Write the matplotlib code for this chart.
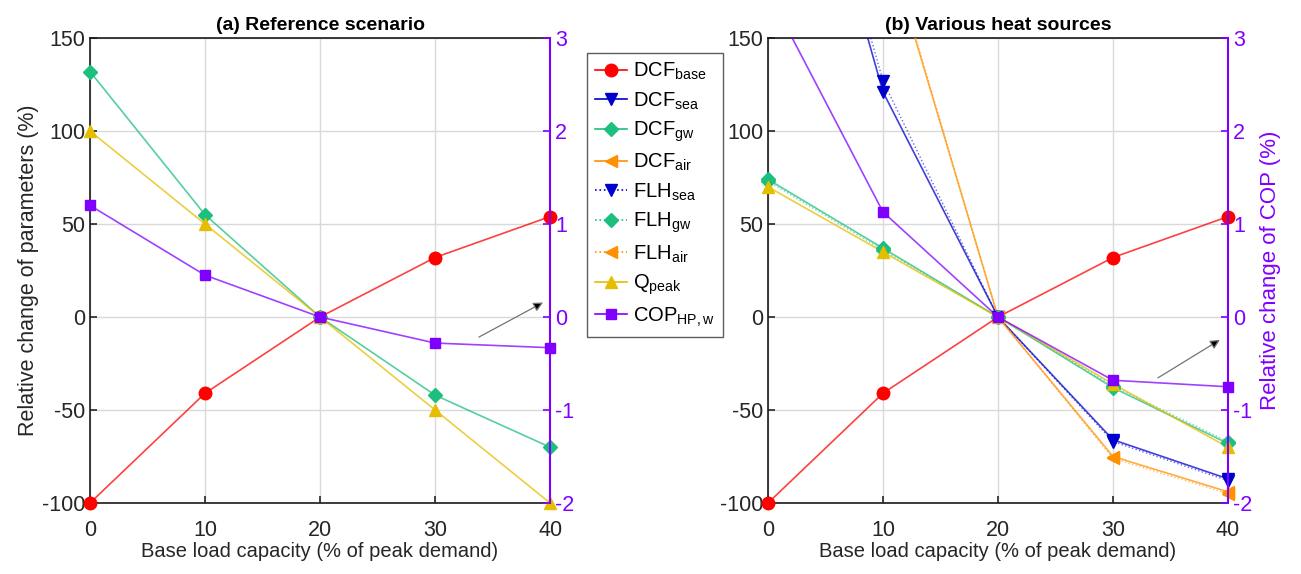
import numpy as np
import matplotlib
matplotlib.use('Agg')
import matplotlib.pyplot as plt
from matplotlib.lines import Line2D
from matplotlib.colors import to_rgba

plt.rcParams['font.family'] = ['Liberation Sans', 'DejaVu Sans']
plt.rcParams['mathtext.fontset'] = 'custom'
plt.rcParams['mathtext.rm'] = 'Liberation Sans'
plt.rcParams['mathtext.it'] = 'Liberation Sans'
plt.rcParams['axes.unicode_minus'] = False

# base load capacity (% of peak demand)
x = [0, 10, 20, 30, 40]

# (a) reference scenario
ref_dcf_base = [-100, -41, 0, 32, 54]
ref_dcf_gw = [132, 55, 0, -42, -70]
ref_q_peak = [100, 50, 0, -50, -100]
ref_cop = [1.2, 0.45, 0, -0.28, -0.33]

# (b) various heat sources
dcf_base = [-100, -41, 0, 32, 54]
dcf_sea = [340, 121, 0, -66, -87]
flh_sea = [345, 127, 0, -67, -88]
dcf_gw = [74, 37, 0, -38, -68]
flh_gw = [73, 36, 0, -37, -67]
dcf_air = [450, 208, 0, -75, -94]
flh_air = [455, 210, 0, -76, -95]
q_peak = [70, 35, 0, -36, -70]
cop = [3.5, 1.13, 0, -0.68, -0.75]

red = '#FF0000'
blue = '#0000CD'
green = '#1DBF7E'
orange = '#FF9000'
gold = '#E6BE00'
purple = '#8000FF'

labels = [r'DCF$_{\mathrm{base}}$', r'DCF$_{\mathrm{sea}}$', r'DCF$_{\mathrm{gw}}$',
          r'DCF$_{\mathrm{air}}$', r'FLH$_{\mathrm{sea}}$', r'FLH$_{\mathrm{gw}}$',
          r'FLH$_{\mathrm{air}}$', r'Q$_{\mathrm{peak}}$', r'COP$_{\mathrm{HP,w}}$']
styles = [(red, 'o', '-'), (blue, 'v', '-'), (green, 'D', '-'), (orange, '<', '-'),
          (blue, 'v', ':'), (green, 'D', ':'), (orange, '<', ':'),
          (gold, '^', '-'), (purple, 's', '-')]
msizes = {'o': 9, 'v': 9, 'D': 7.5, '<': 9, '^': 9, 's': 7.5}


def series(ax, y, color, marker, ls, lo, hi):
    y = np.array(y, dtype=float)
    a = 0.75 if ls == '-' else 0.6
    lw = 1.2 if ls == '-' else 1.0
    ax.plot(x, y, ls=ls, color=to_rgba(color, a), lw=lw, zorder=3)
    m = (y >= lo) & (y <= hi)
    ax.plot(np.array(x)[m], y[m], ls='none', marker=marker, ms=msizes[marker],
            color=color, clip_on=False, zorder=4)


def setup(ax, title):
    ax.set_xlim(0, 40)
    ax.set_ylim(-100, 150)
    ax.set_xticks(x)
    ax.set_yticks(range(-100, 151, 50))
    ax.grid(True, color='0.85', lw=1.0)
    ax.tick_params(direction='in', labelsize=15.5, length=5, width=1.2, colors='0.15')
    ax.tick_params(axis='x', pad=12)
    for s in ax.spines.values():
        s.set_linewidth(1.2)
        s.set_color('0.1')
    ax.set_title(title, fontsize=14, fontweight='bold', pad=6)
    ax.set_xlabel('Base load capacity (% of peak demand)', fontsize=14.5, color='0.15', labelpad=1)


def cop_axis(ax):
    ax2 = ax.twinx()
    ax2.set_ylim(-2, 3)
    ax2.set_yticks(range(-2, 4))
    ax2.tick_params(direction='in', labelsize=15.5, length=5, width=1.2, colors=purple)
    ax2.spines['right'].set_color(purple)
    ax2.spines['right'].set_linewidth(1.5)
    ax2.spines['left'].set_visible(False)
    ax2.spines['top'].set_visible(False)
    ax2.spines['bottom'].set_visible(False)
    return ax2


fig = plt.figure(figsize=(13.01, 5.74), dpi=100)
ax1 = fig.add_axes([0.0692, 0.1237, 0.3536, 0.810])
ax3 = fig.add_axes([0.5903, 0.1237, 0.3536, 0.810])

# (a)
setup(ax1, '(a) Reference scenario')
ax1.set_ylabel('Relative change of parameters (%)', fontsize=15.5, color='0.15', labelpad=2)
series(ax1, ref_dcf_base, red, 'o', '-', -100, 150)
series(ax1, ref_dcf_gw, green, 'D', '-', -100, 150)
series(ax1, ref_q_peak, gold, '^', '-', -100, 150)
ax2 = cop_axis(ax1)
series(ax2, ref_cop, purple, 's', '-', -2, 3)
ax1.annotate('', xy=(39.6, 8.5), xytext=(33.6, -11.5),
             arrowprops=dict(arrowstyle='-|>', edgecolor='0.45', facecolor='black',
                             lw=0.9, mutation_scale=14))

# (b)
setup(ax3, '(b) Various heat sources')
series(ax3, dcf_base, red, 'o', '-', -100, 150)
series(ax3, flh_sea, blue, 'v', ':', -100, 150)
series(ax3, dcf_sea, blue, 'v', '-', -100, 150)
series(ax3, flh_air, orange, '<', ':', -100, 150)
series(ax3, dcf_air, orange, '<', '-', -100, 150)
series(ax3, flh_gw, green, 'D', ':', -100, 150)
series(ax3, dcf_gw, green, 'D', '-', -100, 150)
series(ax3, q_peak, gold, '^', '-', -100, 150)
ax4 = cop_axis(ax3)
series(ax4, cop, purple, 's', '-', -2, 3)
ax4.set_ylabel('Relative change of COP (%)', fontsize=16, color=purple, labelpad=6)
ax3.annotate('', xy=(39.5, -11.5), xytext=(33.7, -33.5),
             arrowprops=dict(arrowstyle='-|>', edgecolor='0.45', facecolor='black',
                             lw=0.9, mutation_scale=14))

handles = [Line2D([], [], color=c, marker=m, ls=ls, ms=msizes[m], lw=1.2)
           for c, m, ls in styles]
fig.legend(handles, labels, loc='upper left', bbox_to_anchor=(0.451, 0.908),
           fontsize=14.5, frameon=True, fancybox=False, edgecolor='0.2',
           handlelength=1.6, handletextpad=0.3, labelspacing=0.4,
           borderpad=0.4, borderaxespad=0)

fig.savefig('out.png', dpi=100)
